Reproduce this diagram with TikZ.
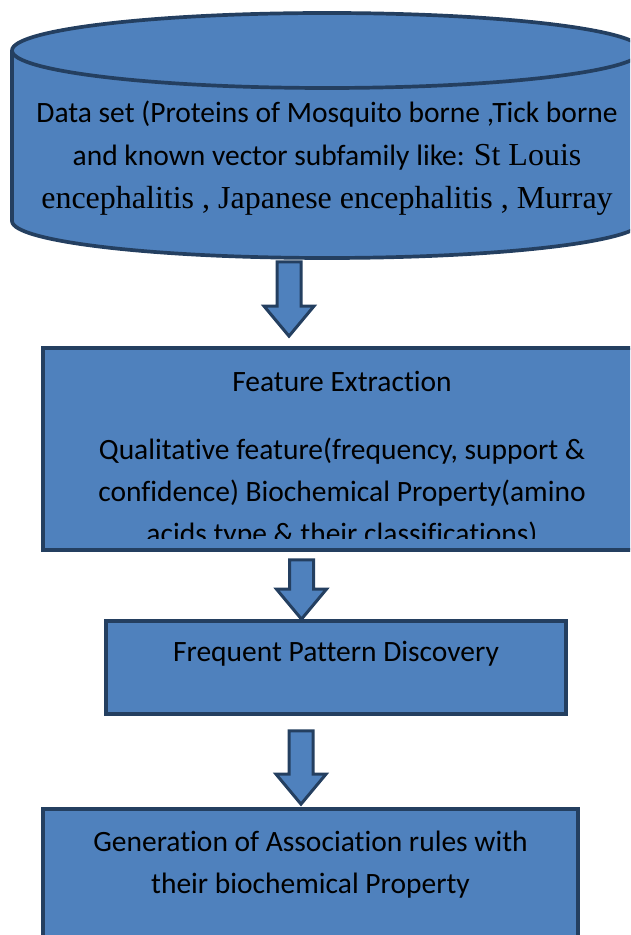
\documentclass[tikz,border=0pt]{standalone}
\usepackage{fontspec}
\setmainfont{Carlito}[Ligatures=NoCommon]
\newfontfamily\timesfont{Liberation Serif}
\usetikzlibrary{calc}

\definecolor{boxfill}{HTML}{4F81BD}
\definecolor{boxline}{HTML}{243F60}
\newcommand{\serifpart}{\timesfont\fontsize{32}{43}\selectfont}

\tikzset{
  stage/.style={draw=boxline, fill=boxfill, line width=3.7pt, rectangle, inner sep=0pt},
  stagetext/.style={align=center, inner sep=0pt, font=\fontsize{29.5}{42}\selectfont},
  blockarrow/.style={draw=boxline, fill=boxfill, line width=3pt, line join=miter,
    to path={let \p1=(\tikztostart), \p2=(\tikztotarget) in
      (\x1-12pt,\y1) -- (\x1-12pt,\y2+30pt) -- (\x1-25pt,\y2+30pt) -- (\x2,\y2)
      -- (\x1+25pt,\y2+30pt) -- (\x1+12pt,\y2+30pt) -- (\x1+12pt,\y1) -- cycle}}
}

\begin{document}
\begin{tikzpicture}[x=1pt, y=1pt]
  \useasboundingbox (0,0) rectangle (630,935);
  \clip (0,0) rectangle (630,935);

  % Data set cylinder
  \path[stage] (12,884.5) -- (12,714)
    arc[start angle=180, end angle=360, x radius=315, y radius=37]
    -- (642,884.5)
    arc[start angle=0, end angle=180, x radius=315, y radius=37.5] -- cycle;
  \draw[boxline, line width=3.7pt] (12,884.5)
    arc[start angle=180, end angle=360, x radius=315, y radius=37.5];
  \node[stagetext, font=\fontsize{29.5}{43}\selectfont, anchor=north] (dataset) at (327,834)
    {Data set (Proteins of Mosquito borne ,Tick borne\\
     and known vector subfamily like: {\serifpart St Louis}\\
     {\serifpart encephalitis , Japanese encephalitis , Murray}};
  \coordinate (dsbottom) at (289,673);

  % Feature extraction
  \node[stage, minimum width=598pt, minimum height=202pt] (featbox) at (342,486) {};
  \begin{scope}
    \clip (featbox.north west) rectangle ([yshift=13pt]featbox.south east);
    \node[stagetext, anchor=north] (feattext) at (342,564)
      {Feature Extraction\\[26pt]
       Qualitative feature(frequency, support \&\\
       confidence) Biochemical Property(amino\\
       acids type \& their classifications)};
  \end{scope}

  % Frequent pattern discovery
  \node[stage, minimum width=460pt, minimum height=93pt] (freqbox) at (336,267.5) {};
  \node[stagetext, anchor=base] (freqtext) at (336,273) {Frequent Pattern Discovery};

  % Association rules
  \node[stage, minimum width=535pt, minimum height=160pt] (rulebox) at (310.5,46) {};
  \node[stagetext, anchor=north] (ruletext) at (310.5,104)
    {Generation of Association rules with\\ their biochemical Property};

  % Block arrows
  \draw[blockarrow] (dsbottom) to ([yshift=10pt]dsbottom |- featbox.north);
  \coordinate (featout) at (301.5,375);
  \draw[blockarrow] (featout) to (featout |- freqbox.north);
  \coordinate (freqout) at (301,204);
  \draw[blockarrow] (freqout) to ([yshift=3pt]freqout |- rulebox.north);
\end{tikzpicture}
\end{document}
